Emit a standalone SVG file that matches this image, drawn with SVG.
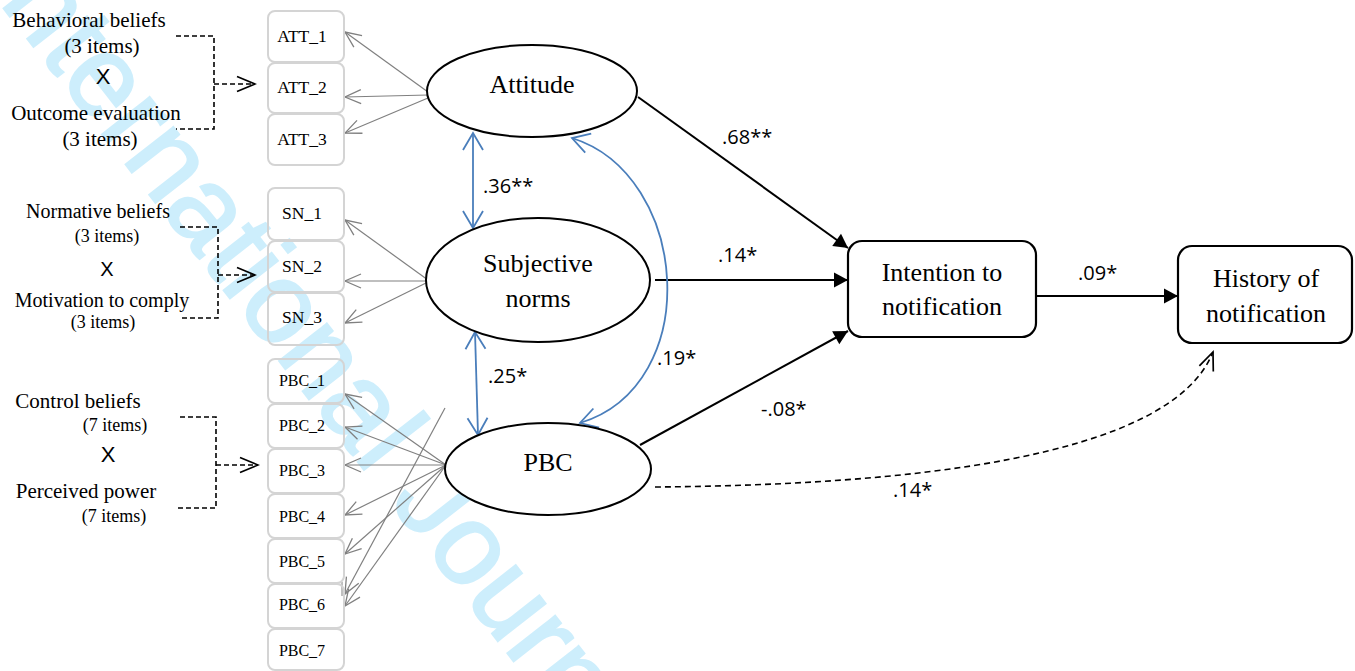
<svg xmlns="http://www.w3.org/2000/svg" width="1355" height="671" viewBox="0 0 1355 671">
<style>
.ser{font-family:"Liberation Serif","Times New Roman",serif;fill:#000}
.sans{font-family:"Liberation Sans",Arial,sans-serif;fill:#000}
.lab{font-family:"Open Sans","Liberation Sans",sans-serif;font-size:20px;fill:#000}
.item{fill:none;stroke:#d4d4d4;stroke-width:2}
.lat{fill:#fff;stroke:#000;stroke-width:2}
.obs{fill:#fff;stroke:#000;stroke-width:2.2}
.gray{stroke:#808080;stroke-width:1.2;fill:none;marker-end:url(#ga)}
.path{stroke:#000;stroke-width:2;fill:none;marker-end:url(#fa)}
.dash{stroke:#000;stroke-width:1.6;fill:none;stroke-dasharray:5 3}
.blue{stroke:#4a7ebb;stroke-width:1.8;fill:none;marker-start:url(#ba);marker-end:url(#ba)}
</style>
<defs>
<marker id="ga" markerUnits="userSpaceOnUse" viewBox="-18 -9 20 18" markerWidth="20" markerHeight="18" refX="0" refY="0" orient="auto">
<path d="M-16,-7 L0,0 L-16,7" fill="none" stroke="#808080" stroke-width="1.3"/>
</marker>
<marker id="fa" markerUnits="userSpaceOnUse" viewBox="-15 -9 16 18" markerWidth="16" markerHeight="18" refX="0" refY="0" orient="auto">
<path d="M-14,-7.5 L0,0 L-14,7.5 Z" fill="#000"/>
</marker>
<marker id="da" markerUnits="userSpaceOnUse" viewBox="-20 -10 22 20" markerWidth="22" markerHeight="20" refX="0" refY="0" orient="auto">
<path d="M-18,-7.5 L0,0 L-18,7.5" fill="none" stroke="#000" stroke-width="1.7"/>
</marker>
<marker id="ba" markerUnits="userSpaceOnUse" viewBox="-20 -12 22 24" markerWidth="22" markerHeight="24" refX="0" refY="0" orient="auto-start-reverse">
<path d="M-17,-10 L0,0 L-17,10" fill="none" stroke="#4a7ebb" stroke-width="1.8"/>
</marker>
</defs>

<text transform="translate(-21,-23) rotate(52)" x="0" y="0" font-family="'Liberation Sans',Arial,sans-serif" font-size="115" fill="#cdeefc" stroke="#cdeefc" stroke-width="2">International Journal</text>

<g id="connectors">
<path class="dash" d="M176,36 H214 V129 H176"/>
<path class="dash" d="M214,84 H255" marker-end="url(#da)"/>
<path class="dash" d="M180,227 H218 V318 H180"/>
<path class="dash" d="M218,275 H255" marker-end="url(#da)"/>
<path class="dash" d="M180,417 H216 V508 H176"/>
<path class="dash" d="M216,465 H258" marker-end="url(#da)"/>

<path class="gray" d="M428,92 L345,32"/>
<path class="gray" d="M428,95 L345,97"/>
<path class="gray" d="M428,98 L345,133"/>
<path class="gray" d="M428,280 L345,220"/>
<path class="gray" d="M428,281 L345,281"/>
<path class="gray" d="M428,282 L345,323"/>
<path class="gray" d="M446,465 L345,394"/>
<path class="gray" d="M446,465 L345,427"/>
<path class="gray" d="M446,465 L345,465"/>
<path class="gray" d="M446,465 L345,515"/>
<path class="gray" d="M446,465 L345,554"/>
<path class="gray" d="M446,465 L345,606"/>
<path class="gray" d="M445,408 L345,594"/>
<path d="M342,582 V596" stroke="#808080" stroke-width="1"/>

<path class="path" d="M638,97 L848,248"/>
<path class="path" d="M655,280 L848,280"/>
<path class="path" d="M640,445 L848,331"/>
<path class="path" d="M1036,296 L1178,296"/>
<path d="M655,487 C900,485 1170,460 1213,352" stroke="#000" stroke-width="1.6" fill="none" stroke-dasharray="6 4" marker-end="url(#da)"/>

<path class="blue" d="M473,133 L473,228"/>
<path class="blue" d="M475,332 L478,435"/>
<path class="blue" d="M572,138 C690,175 705,385 580,423"/>

<text class="lab" x="722" y="144">.68**</text>
<text class="lab" x="483" y="193">.36**</text>
<text class="lab" x="718" y="262">.14*</text>
<text class="lab" x="657" y="365">.19*</text>
<text class="lab" x="488" y="383">.25*</text>
<text class="lab" x="761" y="416">-.08*</text>
<text class="lab" x="1078" y="280">.09*</text>
<text class="lab" x="893" y="497">.14*</text>
</g>

<g id="att-sources">
<text class="ser" font-size="21" text-anchor="middle" x="89" y="27">Behavioral beliefs</text>
<text class="ser" font-size="21" text-anchor="middle" x="102" y="53">(3 items)</text>
<text class="sans" font-size="22" text-anchor="middle" x="103" y="84">X</text>
<text class="ser" font-size="21" text-anchor="middle" x="96" y="120">Outcome evaluation</text>
<text class="ser" font-size="21" text-anchor="middle" x="100" y="146">(3 items)</text>
</g>
<g id="sn-sources">
<text class="ser" font-size="20" text-anchor="middle" x="98" y="218">Normative beliefs</text>
<text class="ser" font-size="18" text-anchor="middle" x="107" y="242">(3 items)</text>
<text class="sans" font-size="20" text-anchor="middle" x="107" y="276">X</text>
<text class="ser" font-size="20" text-anchor="middle" x="102" y="307">Motivation to comply</text>
<text class="ser" font-size="18" text-anchor="middle" x="103" y="328">(3 items)</text>
</g>
<g id="pbc-sources">
<text class="ser" font-size="21" text-anchor="middle" x="78" y="408">Control beliefs</text>
<text class="ser" font-size="18" text-anchor="middle" x="115" y="431">(7 items)</text>
<text class="sans" font-size="22" text-anchor="middle" x="108" y="462">X</text>
<text class="ser" font-size="21" text-anchor="middle" x="86" y="498">Perceived power</text>
<text class="ser" font-size="18" text-anchor="middle" x="114" y="522">(7 items)</text>
</g>

<g id="att-items">
<rect class="item" x="268" y="11" width="76" height="51" rx="7"/>
<text class="ser" font-size="17.5" text-anchor="middle" x="302" y="42">ATT_1</text>
<rect class="item" x="268" y="63" width="76" height="50" rx="7"/>
<text class="ser" font-size="17.5" text-anchor="middle" x="302" y="93">ATT_2</text>
<rect class="item" x="268" y="114" width="76" height="51" rx="7"/>
<text class="ser" font-size="17.5" text-anchor="middle" x="302" y="145">ATT_3</text>
</g>
<g id="sn-items">
<rect class="item" x="268" y="188" width="76" height="52" rx="7"/>
<text class="ser" font-size="17.5" text-anchor="middle" x="302" y="219">SN_1</text>
<rect class="item" x="268" y="241" width="76" height="51" rx="7"/>
<text class="ser" font-size="17.5" text-anchor="middle" x="302" y="272">SN_2</text>
<rect class="item" x="268" y="293" width="76" height="52" rx="7"/>
<text class="ser" font-size="17.5" text-anchor="middle" x="302" y="323">SN_3</text>
</g>
<g id="pbc-items">
<rect class="item" x="268" y="359" width="76" height="44" rx="7"/>
<text class="ser" font-size="16" text-anchor="middle" x="302" y="386">PBC_1</text>
<rect class="item" x="268" y="404" width="76" height="44" rx="7"/>
<text class="ser" font-size="16" text-anchor="middle" x="302" y="431">PBC_2</text>
<rect class="item" x="268" y="449" width="76" height="44" rx="7"/>
<text class="ser" font-size="16" text-anchor="middle" x="302" y="476">PBC_3</text>
<rect class="item" x="268" y="494" width="76" height="44" rx="7"/>
<text class="ser" font-size="16" text-anchor="middle" x="302" y="522">PBC_4</text>
<rect class="item" x="268" y="539" width="76" height="44" rx="7"/>
<text class="ser" font-size="16" text-anchor="middle" x="302" y="567">PBC_5</text>
<rect class="item" x="268" y="584" width="76" height="44" rx="7"/>
<text class="ser" font-size="16" text-anchor="middle" x="302" y="610">PBC_6</text>
<rect class="item" x="268" y="629" width="76" height="41" rx="7"/>
<text class="ser" font-size="16" text-anchor="middle" x="302" y="656">PBC_7</text>
</g>

<g id="attitude">
<ellipse class="lat" cx="532" cy="91" rx="105" ry="46"/>
<text class="ser" font-size="26" text-anchor="middle" x="532" y="93">Attitude</text>
</g>
<g id="subjective-norms">
<ellipse class="lat" cx="538" cy="280" rx="112" ry="62"/>
<text class="ser" font-size="26" text-anchor="middle" x="538" y="272">Subjective</text>
<text class="ser" font-size="26" text-anchor="middle" x="538" y="307">norms</text>
</g>
<g id="pbc">
<ellipse class="lat" cx="548" cy="469" rx="103" ry="46"/>
<text class="ser" font-size="26" text-anchor="middle" x="548" y="471">PBC</text>
</g>
<g id="intention">
<rect class="obs" x="848" y="241" width="188" height="96" rx="14"/>
<text class="ser" font-size="26" text-anchor="middle" x="942" y="281">Intention to</text>
<text class="ser" font-size="26" text-anchor="middle" x="942" y="315">notification</text>
</g>
<g id="history">
<rect class="obs" x="1178" y="246" width="174" height="97" rx="14"/>
<text class="ser" font-size="26" text-anchor="middle" x="1266" y="287">History of</text>
<text class="ser" font-size="26" text-anchor="middle" x="1266" y="322">notification</text>
</g>
</svg>
